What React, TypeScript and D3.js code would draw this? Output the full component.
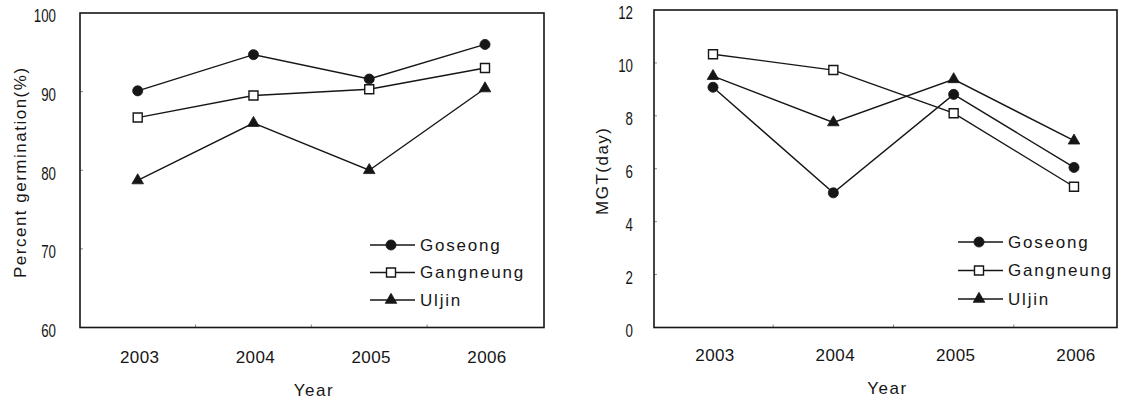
import React from 'react';
import * as d3 from 'd3';

const years = ['2003', '2004', '2005', '2006'];
const sites = ['Goseong', 'Gangneung', 'Uljin'];

// Percent germination (%)
const germGoseong = [90.1, 94.7, 91.6, 96.0];
const germGangneung = [86.7, 89.5, 90.3, 93.0];
const germUljin = [78.7, 86.0, 80.0, 90.4];
const germTicks = [60, 70, 80, 90, 100];

// MGT (day)
const mgtGoseong = [9.08, 5.09, 8.81, 6.05];
const mgtGangneung = [10.33, 9.73, 8.1, 5.32];
const mgtUljin = [9.5, 7.75, 9.38, 7.06];
const mgtTicks = [0, 2, 4, 6, 8, 10, 12];

const INK = '#161616';
const FONT = '"Liberation Sans", Arial, sans-serif';

const markerPath = {
  Goseong: d3.symbol(d3.symbolCircle, 80)(),
  Gangneung: d3.symbol(d3.symbolSquare, 81)(),
  Uljin: d3.symbol(d3.symbolTriangle, 58)(),
};

const Marker = ({ site, x, y }) => (
  <path
    d={markerPath[site]}
    transform={`translate(${x},${y})`}
    fill={site === 'Gangneung' ? '#fff' : INK}
    stroke={INK}
    strokeWidth={site === 'Gangneung' ? 1.4 : 0.8}
  />
);

const Panel = ({ cfg }) => {
  const { box, xRange, domain, ticks, series, title } = cfg;
  const x = d3.scalePoint().domain(years).range(xRange);
  const y = d3.scaleLinear().domain(domain).range([box.bottom, box.top]);
  const line = d3
    .line()
    .x((d, i) => x(years[i]))
    .y((d) => y(d));

  const step = x.step();
  const midTicks = years.slice(0, -1).map((yr) => x(yr) + step / 2);

  return (
    <g>
      {/* inner ticks */}
      {ticks.slice(1, -1).map((t) => (
        <line
          key={'yt' + t}
          x1={box.left}
          x2={box.left + 3}
          y1={y(t)}
          y2={y(t)}
          stroke="#888"
          strokeWidth={1}
        />
      ))}
      {midTicks.map((mx, i) => (
        <line
          key={'xt' + i}
          x1={mx}
          x2={mx}
          y1={box.bottom}
          y2={box.bottom - 3}
          stroke="#888"
          strokeWidth={1}
        />
      ))}
      <rect
        x={box.left}
        y={box.top}
        width={box.right - box.left}
        height={box.bottom - box.top}
        fill="none"
        stroke={INK}
        strokeWidth={1.6}
      />

      {/* y tick labels (narrow digits) */}
      {ticks.map((t) => (
        <text
          key={'yl' + t}
          transform={`translate(${cfg.yLabelRight},${y(t) + 3}) scale(0.74,1)`}
          textAnchor="end"
          dominantBaseline="central"
          fontSize={18}
          fill={INK}
        >
          {t}
        </text>
      ))}
      {/* x tick labels */}
      {years.map((yr) => (
        <text
          key={'xl' + yr}
          x={x(yr) + 2}
          y={cfg.xLabelY}
          textAnchor="middle"
          dominantBaseline="central"
          fontSize={17}
          letterSpacing={0.4}
          fill={INK}
        >
          {yr}
        </text>
      ))}
      <text
        x={(box.left + box.right) / 2 + 2}
        y={cfg.yearY}
        textAnchor="middle"
        dominantBaseline="central"
        fontSize={17}
        letterSpacing={1.5}
        fill={INK}
      >
        Year
      </text>
      <text
        transform={`translate(${cfg.yTitleX},${(box.top + box.bottom) / 2 + 2}) rotate(-90)`}
        textAnchor="middle"
        dominantBaseline="central"
        fontSize={17}
        letterSpacing={1.5}
        fill={INK}
      >
        {title}
      </text>

      {/* series */}
      {sites.map((s, si) => (
        <g key={s}>
          <path d={line(series[si])} fill="none" stroke={INK} strokeWidth={1.4} />
          {series[si].map((v, i) => (
            <Marker key={i} site={s} x={x(years[i])} y={y(v)} />
          ))}
        </g>
      ))}

      {/* legend */}
      {sites.map((s, si) => {
        const ly = cfg.legend.y + si * cfg.legend.step;
        const lx = cfg.legend.x;
        return (
          <g key={'lg' + s}>
            <line x1={lx - 21} x2={lx + 24} y1={ly} y2={ly} stroke={INK} strokeWidth={1.4} />
            <Marker site={s} x={lx} y={ly} />
            <text
              x={lx + 29}
              y={ly}
              dominantBaseline="central"
              fontSize={17}
              letterSpacing={1.8}
              fill={INK}
            >
              {s}
            </text>
          </g>
        );
      })}
    </g>
  );
};

const panels = [
  {
    box: { left: 80, right: 544, top: 13, bottom: 327.5 },
    xRange: [137.7, 485],
    domain: [60, 100],
    ticks: germTicks,
    series: [germGoseong, germGangneung, germUljin],
    title: 'Percent germination(%)',
    yLabelRight: 56,
    yTitleX: 20,
    xLabelY: 357,
    yearY: 390,
    legend: { x: 391, y: 245, step: 27.5 },
  },
  {
    box: { left: 654, right: 1117, top: 10, bottom: 327.5 },
    xRange: [713, 1074],
    domain: [0, 12],
    ticks: mgtTicks,
    series: [mgtGoseong, mgtGangneung, mgtUljin],
    title: 'MGT(day)',
    yLabelRight: 633,
    yTitleX: 602,
    xLabelY: 355,
    yearY: 388,
    legend: { x: 979, y: 242, step: 28.5 },
  },
];

export default function App() {
  return (
    <svg
      width={1133}
      height={399}
      style={{ position: 'absolute', left: 0, top: 0, background: '#fff', fontFamily: FONT }}
    >
      {panels.map((p, i) => (
        <Panel key={i} cfg={p} />
      ))}
    </svg>
  );
}
